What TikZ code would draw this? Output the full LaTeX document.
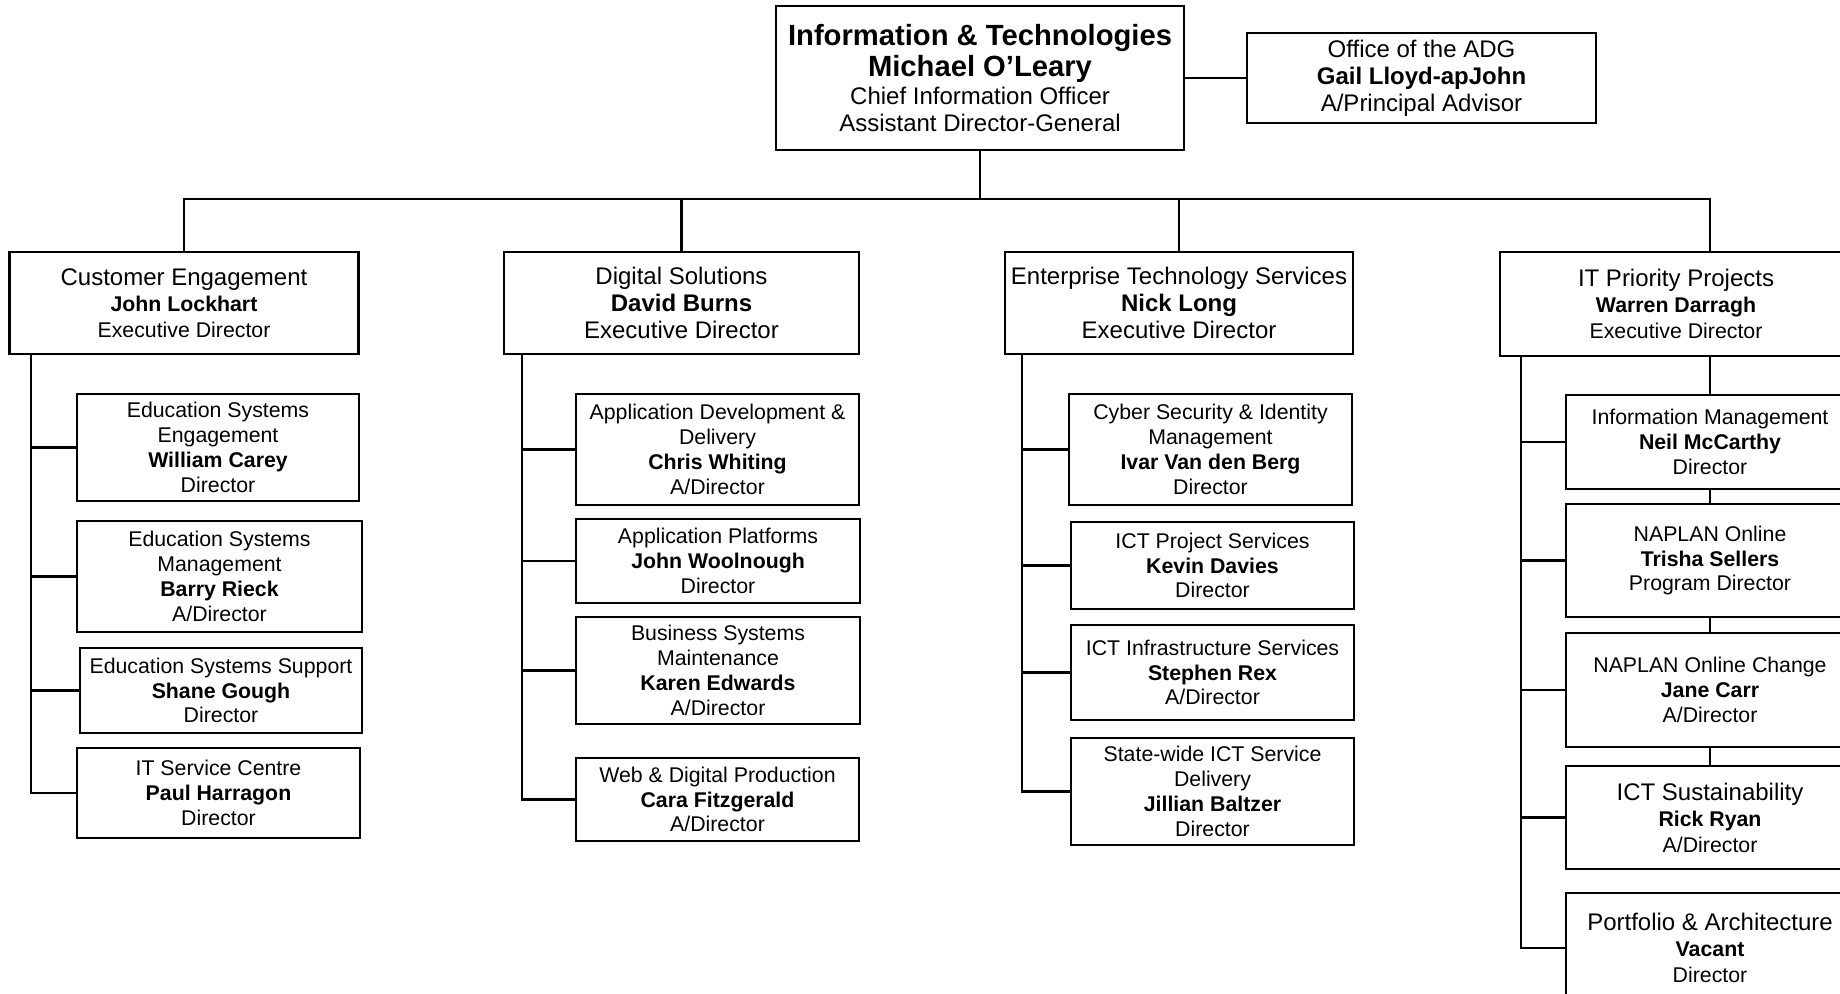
\documentclass[tikz,border=0pt]{standalone}
\usepackage{fontspec}
\setmainfont{Liberation Sans}
\usepackage{tikz}
\newcommand \topfont {\fontsize{14.6}{16}\selectfont\bfseries}
\newcommand \headfont {\fontsize{12}{13.6}\selectfont}
\newcommand \mixfont {\fontsize{10.65}{13}\selectfont}
\newcommand \unitfont {\fontsize{10.65}{12.4}\selectfont}
\tikzstyle{unit}=[rectangle,draw=black,fill=white,align=center,inner sep=1pt,font=\unitfont]
\tikzstyle{head}=[unit,font=\headfont]
\tikzstyle{mixhead}=[unit,font=\mixfont]
\tikzset{px/.style 2 args={minimum width=#1*0.5pt,minimum height=#2*0.5pt}}
\tikzset{every picture/.style={
    line width=1.4pt
  }
}

\begin{document}
\begin{tikzpicture}[x=0.5pt,y=-0.5pt]
      \useasboundingbox (0,0) rectangle (1840,994);
      \clip (0,0) rectangle (1840,994);
      % top level
      \node[head,px={408}{144}] at (980,78) (it) {{\topfont Information \& Technologies}\\[1pt]{\topfont Michael O’Leary}\\Chief Information Officer\\Assistant Director-General};
      \node[head,px={349}{90}] at (1421.5,78) (adg) {Office of the ADG\\\textbf{Gail Lloyd-apJohn}\\A/Principal Advisor};
      \coordinate (hub) at (980,199);
      % divisions
      \node[mixhead,px={349}{102}] at (184,303) (ce) {{\headfont Customer Engagement}\\\textbf{John Lockhart}\\Executive Director};
      \node[head,px={355}{102}] at (681.5,303) (ds) {Digital Solutions\\\textbf{David Burns}\\Executive Director};
      \node[head,px={348}{102}] at (1179,303) (ets) {Enterprise Technology Services\\\textbf{Nick Long}\\Executive Director};
      \node[mixhead,px={352}{104}] at (1676,304) (ipp) {{\headfont IT Priority Projects}\\\textbf{Warren Darragh}\\Executive Director};
      % customer engagement
      \node[unit,px={282}{107}] at (218,447.5) (ese) {Education Systems\\Engagement\\\textbf{William Carey}\\Director};
      \node[unit,px={285}{111}] at (219.5,576.5) (esm) {Education Systems\\Management\\\textbf{Barry Rieck}\\A/Director};
      \node[unit,px={282}{85}] at (221,690.5) (ess) {Education Systems Support\\\textbf{Shane Gough}\\Director};
      \node[unit,px={283}{90}] at (218.5,793) (itsc) {IT Service Centre\\\textbf{Paul Harragon}\\Director};
      % digital solutions
      \node[unit,px={283}{111}] at (717.5,449.5) (add) {Application Development \&\\Delivery\\\textbf{Chris Whiting}\\A/Director};
      \node[unit,px={284}{84}] at (718,561) (ap) {Application Platforms\\\textbf{John Woolnough}\\Director};
      \node[unit,px={284}{107}] at (718,670.5) (bsm) {Business Systems\\Maintenance\\\textbf{Karen Edwards}\\A/Director};
      \node[unit,px={283}{83}] at (717.5,799.5) (wdp) {Web \& Digital Production\\\textbf{Cara Fitzgerald}\\A/Director};
      % enterprise technology services
      \node[unit,px={283}{111}] at (1210.5,449.5) (csim) {Cyber Security \& Identity\\Management\\\textbf{Ivar Van den Berg}\\Director};
      \node[unit,px={283}{87}] at (1212.5,565.5) (icps) {ICT Project Services\\\textbf{Kevin Davies}\\Director};
      \node[unit,px={283}{95}] at (1212.5,672.5) (icis) {ICT Infrastructure Services\\\textbf{Stephen Rex}\\A/Director};
      \node[unit,px={283}{107}] at (1212.5,791.5) (swsd) {State-wide ICT Service\\Delivery\\\textbf{Jillian Baltzer}\\Director};
      % it priority projects
      \node[unit,px={288}{94}] at (1710,442) (im) {Information Management\\\textbf{Neil McCarthy}\\Director};
      \node[unit,px={288}{113}] at (1710,560.5) (no) {NAPLAN Online\\\textbf{Trisha Sellers}\\Program Director};
      \node[unit,px={288}{114}] at (1710,690) (noc) {NAPLAN Online Change\\\textbf{Jane Carr}\\A/Director};
      \node[mixhead,px={288}{103}] at (1710,817.5) (icts) {{\headfont ICT Sustainability}\\\textbf{Rick Ryan}\\A/Director};
      \node[mixhead,px={288}{110}] at (1710,948) (pa) {{\headfont Portfolio \& Architecture}\\\textbf{Vacant}\\Director};
      \coordinate (ceTrunk) at (31,354);
      \coordinate (dsTrunk) at (522,354);
      \coordinate (etsTrunk) at (1022,354);
      \coordinate (ippTrunk) at (1521,356);
      \draw (it)--(adg);
      \draw (it)--(hub);
      \draw (ce) |- (hub) -| (ipp.north -| im.north);
      \draw (hub) -| (ds);
      \draw (hub) -| (ets);
      \draw (ceTrunk) |- (itsc);
      \draw (dsTrunk) |- (wdp);
      \draw (etsTrunk) |- (swsd);
      \draw (ippTrunk) |- (pa);
      \foreach \c in {ese,esm,ess}
        \draw (\c.west -| ceTrunk) -- (\c);
      \foreach \c in {add,ap,bsm}
        \draw (\c.west -| dsTrunk) -- (\c);
      \foreach \c in {csim,icps,icis}
        \draw (\c.west -| etsTrunk) -- (\c);
      \foreach \c in {im,no,noc,icts}
        \draw (\c.west -| ippTrunk) -- (\c);
      \draw (ipp.south -| im.north)--(im);
      \draw (im)--(no);
      \draw (no)--(noc);
      \draw (noc)--(icts);
    \end{tikzpicture}
\end{document}
